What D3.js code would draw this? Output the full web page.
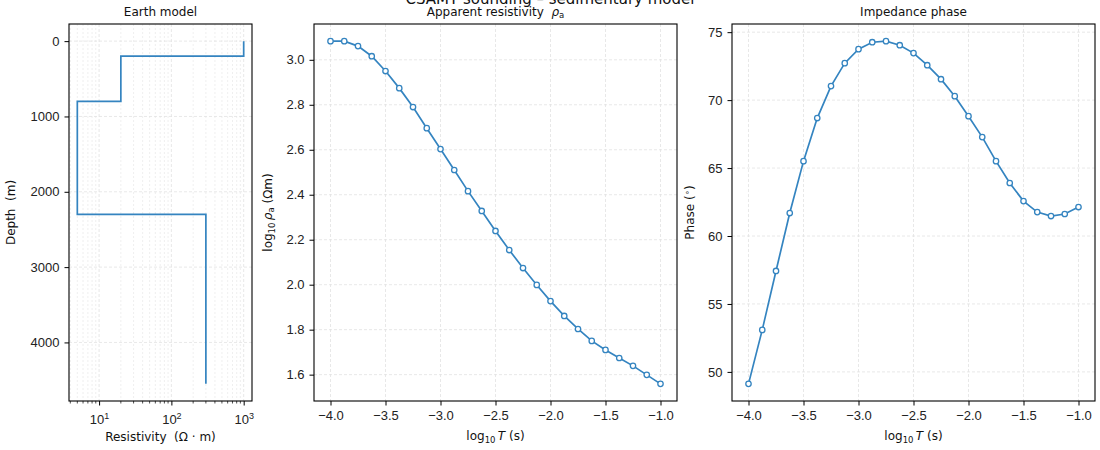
<!DOCTYPE html>
<html>
<head>
<meta charset="utf-8">
<script src="https://cdn.jsdelivr.net/npm/d3@7"></script>
<style>
  body { margin: 0; background: #fff; }
  svg { font-family: 'DejaVu Sans', sans-serif; }
  text { white-space: pre; }
  .tick line { stroke: #000; }
</style>
</head>
<body>
<svg id="chart" width="1100" height="450"></svg>
<script>
// earth model (layer tops in m, resistivity in ohm-m)
const layerTops = [0, 200, 800, 2300]
const layerRes = [1000, 20, 5, 300]
const modelBottom = 4550

// sounding curves
const logT = [-4.0, -3.875, -3.75, -3.625, -3.5, -3.375, -3.25, -3.125, -3.0, -2.875, -2.75, -2.625, -2.5,
  -2.375, -2.25, -2.125, -2.0, -1.875, -1.75, -1.625, -1.5, -1.375, -1.25, -1.125, -1.0]
const logRho = [3.083, 3.083, 3.061, 3.016, 2.950, 2.874, 2.790, 2.696, 2.603, 2.510, 2.416, 2.328, 2.239,
  2.154, 2.074, 1.999, 1.927, 1.861, 1.803, 1.750, 1.710, 1.674, 1.639, 1.599, 1.559]
const phase = [49.12, 53.09, 57.43, 61.69, 65.51, 68.68, 71.03, 72.72, 73.75, 74.26, 74.34, 74.04, 73.46,
  72.57, 71.54, 70.29, 68.82, 67.28, 65.51, 63.90, 62.57, 61.76, 61.47, 61.62, 62.13]

const depthTicks = [0, 1000, 2000, 3000, 4000]
const tTicks = [-4.0, -3.5, -3.0, -2.5, -2.0, -1.5, -1.0]
const rhoTicks = [1.6, 1.8, 2.0, 2.2, 2.4, 2.6, 2.8, 3.0]
const phaseTicks = [50, 55, 60, 65, 70, 75]

const blue = '#3484c0'
const gridColor = '#e2e2e2'
const yTop = 24, yBot = 401
const tickFs = 13, labelFs = 12
const svg = d3.select('#chart')

svg.append('text').attr('x', 550).attr('y', 4).attr('text-anchor', 'middle')
  .attr('font-size', 15).attr('fill', '#111').text('CSAMT sounding – sedimentary model')

function pad (lo, hi) {
  const m = (hi - lo) * 0.05
  return [lo - m, hi + m]
}

function frame (g, x0, x1) {
  g.append('rect').attr('x', x0).attr('y', yTop).attr('width', x1 - x0).attr('height', yBot - yTop)
    .attr('fill', 'none').attr('stroke', '#000').attr('stroke-width', 1.1)
}

function styleTicks (ax) {
  ax.select('.domain').remove()
  ax.selectAll('.tick text').attr('font-size', tickFs).attr('fill', '#222')
}

function title (x, txt) {
  return svg.append('text').attr('x', x).attr('y', 16).attr('text-anchor', 'middle')
    .attr('font-size', 12).attr('fill', '#111').text(txt)
}

function xLabelLog (x) {
  const t = svg.append('text').attr('x', x).attr('y', 440).attr('text-anchor', 'middle')
    .attr('font-size', labelFs).attr('fill', '#111')
  t.append('tspan').text('log')
  t.append('tspan').attr('font-size', 8.5).attr('dy', 3).text('10')
  t.append('tspan').attr('dy', -3).attr('font-style', 'italic').text('\u2009T')
  t.append('tspan').text(' (s)')
}

// ---------- panel 1: earth model ----------
{
  const x0 = 69, x1 = 252
  const lx = pad(Math.log10(d3.min(layerRes)), Math.log10(d3.max(layerRes)))
  const x = d3.scaleLog().domain([10 ** lx[0], 10 ** lx[1]]).range([x0, x1])
  const yd = pad(0, modelBottom)
  const y = d3.scaleLinear().domain([yd[0], yd[1]]).range([yTop, yBot])
  const g = svg.append('g')

  const minors = []
  for (let e = 0; e < 4; e++) for (let k = 2; k < 10; k++) minors.push(k * 10 ** e)
  const minorIn = minors.filter(v => v >= x.domain()[0] && v <= x.domain()[1])
  g.selectAll('.mg').data(minorIn).enter().append('line')
    .attr('x1', d => x(d)).attr('x2', d => x(d)).attr('y1', yTop).attr('y2', yBot)
    .attr('stroke', '#e8e8e8').attr('stroke-width', 0.7).attr('stroke-dasharray', '2,2')
  g.selectAll('.gx').data([10, 100, 1000]).enter().append('line')
    .attr('x1', d => x(d)).attr('x2', d => x(d)).attr('y1', yTop).attr('y2', yBot)
    .attr('stroke', gridColor).attr('stroke-width', 0.8).attr('stroke-dasharray', '3,2')
  g.selectAll('.gy').data(depthTicks).enter().append('line')
    .attr('x1', x0).attr('x2', x1).attr('y1', d => y(d)).attr('y2', d => y(d))
    .attr('stroke', gridColor).attr('stroke-width', 0.8).attr('stroke-dasharray', '3,2')

  const pts = []
  layerRes.forEach((r, i) => {
    pts.push([r, layerTops[i]])
    pts.push([r, i < layerTops.length - 1 ? layerTops[i + 1] : modelBottom])
  })
  g.append('path').datum(pts).attr('fill', 'none').attr('stroke', blue).attr('stroke-width', 1.7)
    .attr('d', d3.line().x(d => x(d[0])).y(d => y(d[1])))

  frame(g, x0, x1)

  const ax = g.append('g').attr('transform', `translate(0,${yBot})`)
    .call(d3.axisBottom(x).tickValues([10, 100, 1000]).tickSize(4.5).tickPadding(5).tickFormat(''))
  ax.select('.domain').remove()
  ax.selectAll('.tick').each(function (d) {
    const t = d3.select(this).append('text').attr('y', 23).attr('text-anchor', 'middle').attr('fill', '#222')
    t.append('tspan').attr('font-size', tickFs).text('10')
    t.append('tspan').attr('font-size', 9).attr('dy', -5).text(Math.round(Math.log10(d)))
  })
  g.selectAll('.mt').data(minorIn).enter().append('line')
    .attr('x1', d => x(d)).attr('x2', d => x(d)).attr('y1', yBot).attr('y2', yBot + 2.5)
    .attr('stroke', '#000').attr('stroke-width', 0.7)

  const ay = g.append('g').attr('transform', `translate(${x0},0)`)
    .call(d3.axisLeft(y).tickValues(depthTicks).tickSize(4.5).tickPadding(5).tickFormat(d3.format('d')))
  styleTicks(ay)

  title((x0 + x1) / 2, 'Earth model')
  svg.append('text').attr('x', (x0 + x1) / 2).attr('y', 441).attr('text-anchor', 'middle')
    .attr('font-size', labelFs).attr('fill', '#111').text('Resistivity  (Ω · m)')
  svg.append('text').attr('transform', `translate(15,${(yTop + yBot) / 2}) rotate(-90)`)
    .attr('text-anchor', 'middle').attr('font-size', labelFs).attr('fill', '#111').text('Depth  (m)')
}

// ---------- shared curve panel ----------
function curvePanel (x0, x1, values, ticks, fmt) {
  const x = d3.scaleLinear().domain(pad(d3.min(logT), d3.max(logT))).range([x0, x1])
  const y = d3.scaleLinear().domain(pad(d3.min(values), d3.max(values))).range([yBot, yTop])
  const g = svg.append('g')
  g.selectAll('.gx').data(tTicks).enter().append('line')
    .attr('x1', d => x(d)).attr('x2', d => x(d)).attr('y1', yTop).attr('y2', yBot)
    .attr('stroke', gridColor).attr('stroke-width', 0.8).attr('stroke-dasharray', '3,2')
  g.selectAll('.gy').data(ticks).enter().append('line')
    .attr('x1', x0).attr('x2', x1).attr('y1', d => y(d)).attr('y2', d => y(d))
    .attr('stroke', gridColor).attr('stroke-width', 0.8).attr('stroke-dasharray', '3,2')

  const data = logT.map((t, i) => [t, values[i]])
  g.append('path').datum(data).attr('fill', 'none').attr('stroke', blue).attr('stroke-width', 1.7)
    .attr('d', d3.line().x(d => x(d[0])).y(d => y(d[1])))
  g.selectAll('circle').data(data).enter().append('circle')
    .attr('cx', d => x(d[0])).attr('cy', d => y(d[1])).attr('r', 2.7)
    .attr('fill', '#fff').attr('stroke', blue).attr('stroke-width', 1.3)

  frame(g, x0, x1)
  const ax = g.append('g').attr('transform', `translate(0,${yBot})`)
    .call(d3.axisBottom(x).tickValues(tTicks).tickSize(4.5).tickPadding(5)
      .tickFormat(d => d3.format('.1f')(d).replace('-', '\u2212')))
  styleTicks(ax)
  const ay = g.append('g').attr('transform', `translate(${x0},0)`)
    .call(d3.axisLeft(y).tickValues(ticks).tickSize(4.5).tickPadding(5).tickFormat(fmt))
  styleTicks(ay)
  xLabelLog((x0 + x1) / 2)
}

// ---------- panel 2: apparent resistivity ----------
{
  const x0 = 314, x1 = 677
  curvePanel(x0, x1, logRho, rhoTicks, d3.format('.1f'))
  const t = title((x0 + x1) / 2, 'Apparent resistivity  ')
  t.append('tspan').attr('font-style', 'italic').text('ρ')
  t.append('tspan').attr('font-size', 8.5).attr('dy', 2).text('a')
  const yl = svg.append('text').attr('transform', `translate(272,${(yTop + yBot) / 2}) rotate(-90)`)
    .attr('text-anchor', 'middle').attr('font-size', labelFs).attr('fill', '#111')
  yl.append('tspan').text('log')
  yl.append('tspan').attr('font-size', 8.5).attr('dy', 3).text('10')
  yl.append('tspan').attr('dy', -3).attr('font-style', 'italic').text('\u2009ρ')
  yl.append('tspan').attr('font-size', 8.5).attr('dy', 2).text('a')
  yl.append('tspan').attr('dy', -2).text(' (Ωm)')
}

// ---------- panel 3: phase ----------
{
  const x0 = 732, x1 = 1095
  curvePanel(x0, x1, phase, phaseTicks, d3.format('d'))
  title((x0 + x1) / 2, 'Impedance phase')
  const yl = svg.append('text').attr('transform', `translate(694,${(yTop + yBot) / 2}) rotate(-90)`)
    .attr('text-anchor', 'middle').attr('font-size', labelFs).attr('fill', '#111')
  yl.append('tspan').text('Phase (')
  yl.append('tspan').attr('font-size', 8.5).attr('dy', -4).text('∘')
  yl.append('tspan').attr('dy', 4).text(')')
}
</script>
</body>
</html>
